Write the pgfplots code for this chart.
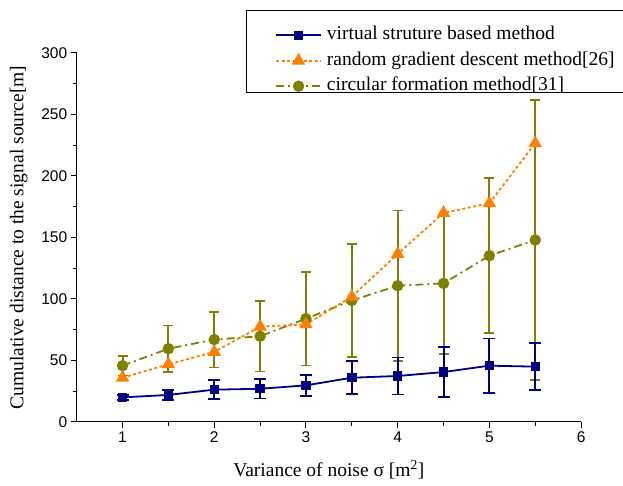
\documentclass[border=0pt]{standalone}
\usepackage{fontspec}
\setmainfont{Liberation Serif}
\setsansfont{Liberation Sans}
\usepackage{pgfplots}
\pgfplotsset{compat=1.18}

\definecolor{vsnavy}{HTML}{000080}
\definecolor{rgorange}{HTML}{FF7F00}
\definecolor{cfolive}{HTML}{808000}

\begin{document}
\begin{tikzpicture}
\path[use as bounding box] (-76.7pt,-64pt) rectangle (546.3pt,422pt);
\begin{axis}[
  scale only axis, width=504.4pt, height=369pt,
  xmin=0.5, xmax=6, ymin=0, ymax=300,
  axis x line*=bottom, axis y line*=left,
  axis line style={line width=1pt, -},
  xtick={1,2,3,4,5,6}, minor xtick={1.5,2.5,3.5,4.5,5.5},
  ytick={0,50,...,300}, minor ytick={25,75,...,275},
  tick align=outside, tick style={line width=1pt, black},
  major tick length=6pt, minor tick length=4pt,
  /pgf/number format/assume math mode=true,
  tick label style={font=\sffamily\fontsize{15.5}{17}\selectfont},
  label style={font=\fontsize{19.5}{22}\selectfont},
  xlabel={Variance of noise σ [m\textsuperscript{2}]},
  ylabel={Cumulative distance to the signal source[m]},
  xlabel style={at={(axis description cs:0.5,-0.13)}, anchor=center},
  ylabel style={at={(axis description cs:-0.115,0.5)}, anchor=center},
  legend style={at={(axis description cs:0.3931,1.0745)}, anchor=north west,
    draw=none, fill=none, inner xsep=0pt, inner ysep=0pt,
    font=\fontsize{19.5}{22}\selectfont, row sep=6.5pt,
    nodes={inner sep=0pt, text height=14pt, text depth=5pt},
    cells={anchor=west},
    /tikz/every odd column/.append style={column sep=5pt}},
  legend image code/.code={%
    \draw[mark repeat=2,mark phase=2,#1] plot coordinates {(0pt,0pt) (22.5pt,0pt) (45pt,0pt)};},
  reverse legend,
  clip=false,
]
% legend frame
\draw[line width=1pt] (axis description cs:1.2,1.1152) -- (axis description cs:0.3376,1.1152)
  -- (axis description cs:0.3376,0.8935) -- (axis description cs:1.2,0.8935);
% circular formation method [31]
\addplot[color=cfolive, line width=1.8pt, dash pattern=on 8pt off 4pt on 2pt off 4pt,
  mark=*, mark size=4.8pt, mark options={solid},
  error bars/.cd, y dir=both, y explicit,
  error bar style={line width=2pt, solid, cfolive},
  error mark options={rotate=90, mark size=5pt, line width=1.6pt, cfolive}]
  coordinates {
  (1,45.8) +- (0,8)
  (1.5,59.6) +- (0,19)
  (2,67) +- (0,22.6)
  (2.5,69.7) +- (0,28.5)
  (3,84) +- (0,38)
  (3.5,98.8) +- (0,46)
  (4,110.8) +- (0,61)
  (4.5,112.7) +- (0,57.5)
  (5,135.2) +- (0,63)
  (5.5,148) +- (0,114)
};
\addlegendentry{circular formation method[31]}
% random gradient descent method [26]
\addplot[color=rgorange, line width=1.8pt, dash pattern=on 3pt off 2.5pt,
  mark=triangle*, mark size=6pt, mark options={solid}]
  coordinates {
  (1,36) (1.5,46.9) (2,57) (2.5,77.5) (3,79.4)
  (3.5,101.9) (4,136.6) (4.5,170) (5,177.8) (5.5,226.6)
};
\addlegendentry{random gradient descent method[26]}
% virtual structure based method
\addplot[color=vsnavy, line width=1.8pt, solid,
  mark=square*, mark size=3.8pt,
  error bars/.cd, y dir=both, y explicit,
  error bar style={line width=2pt, vsnavy},
  error mark options={rotate=90, mark size=6pt, line width=1.6pt, vsnavy}]
  coordinates {
  (1,20) +- (0,2)
  (1.5,22) +- (0,4)
  (2,26.3) +- (0,7.7)
  (2.5,27) +- (0,8)
  (3,29.8) +- (0,8.5)
  (3.5,36) +- (0,13.4)
  (4,37.4) +- (0,15)
  (4.5,40.6) +- (0,20.5)
  (5,45.8) +- (0,22)
  (5.5,45) +- (0,19)
};
\addlegendentry{virtual struture based method}
\end{axis}
\end{tikzpicture}
\end{document}
